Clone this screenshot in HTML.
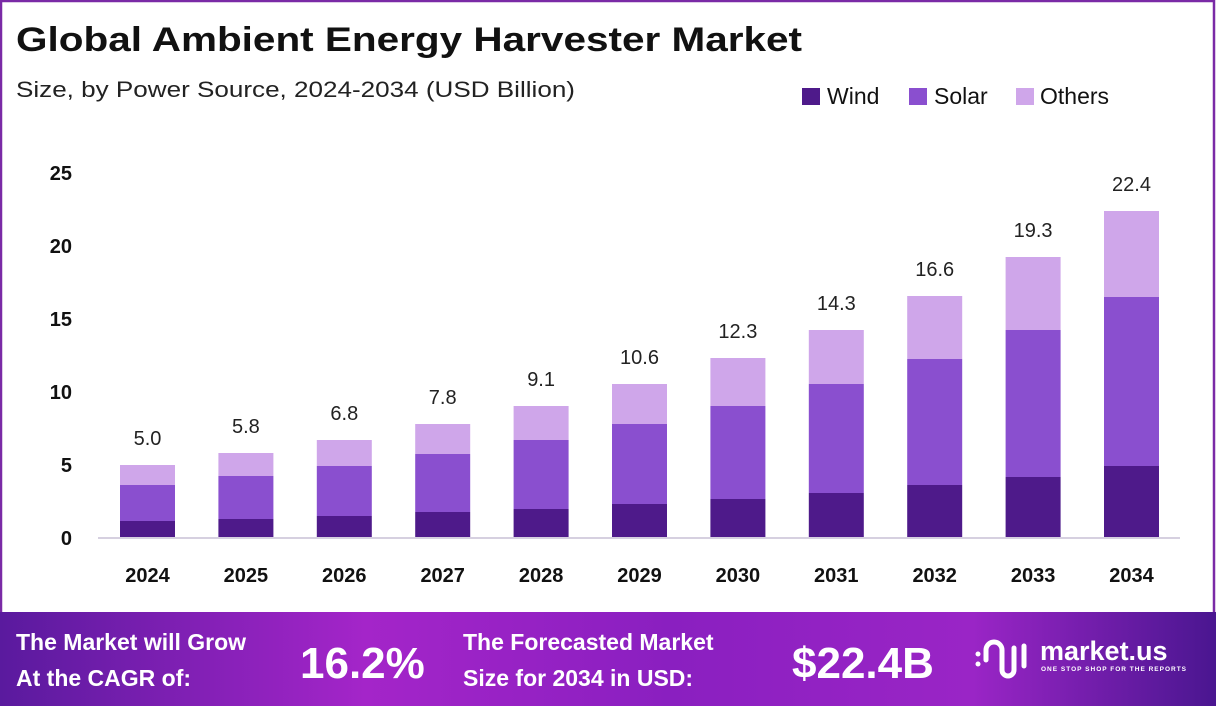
<!DOCTYPE html>
<html><head><meta charset="utf-8"><style>
html,body{margin:0;padding:0;background:#fff}
svg{display:block;font-family:"Liberation Sans",sans-serif}
</style></head><body>
<svg width="1216" height="706" viewBox="0 0 1216 706" xmlns="http://www.w3.org/2000/svg">
<defs>
<linearGradient id="ft" x1="0" x2="1" y1="0" y2="0">
<stop offset="0" stop-color="#5a1a9e"/>
<stop offset="0.3" stop-color="#a425c9"/>
<stop offset="0.55" stop-color="#8a1fc0"/>
<stop offset="0.8" stop-color="#9a25c6"/>
<stop offset="1" stop-color="#4a1690"/>
</linearGradient>
</defs>
<rect x="0" y="0" width="1216" height="706" fill="#fff"/>
<rect x="1" y="1" width="1213" height="620" fill="none" stroke="#7a2aa6" stroke-width="2.5"/>
<text x="16" y="51" font-size="34" font-weight="bold" fill="#111" textLength="786" lengthAdjust="spacingAndGlyphs">Global Ambient Energy Harvester Market</text>
<text x="16" y="97" font-size="22" fill="#222" textLength="559" lengthAdjust="spacingAndGlyphs">Size, by Power Source, 2024-2034 (USD Billion)</text>
<rect x="802" y="88" width="18" height="17" fill="#4e1a8a"/>
<text x="827" y="104" font-size="23" fill="#111">Wind</text>
<rect x="909" y="88" width="18" height="17" fill="#8a4fcf"/>
<text x="934" y="104" font-size="23" fill="#111">Solar</text>
<rect x="1016" y="88" width="18" height="17" fill="#cfa6ea"/>
<text x="1040" y="104" font-size="23" fill="#111">Others</text>
<g font-size="20" font-weight="bold" fill="#111" text-anchor="end">
<text x="72" y="180">25</text><text x="72" y="253">20</text><text x="72" y="326">15</text>
<text x="72" y="399">10</text><text x="72" y="472">5</text><text x="72" y="545">0</text>
</g>
<line x1="98" y1="538" x2="1180" y2="538" stroke="#d6d0e0" stroke-width="2"/>
<g id="bars"></g>
<g font-size="20" font-weight="bold" fill="#111" text-anchor="middle" id="xl"></g>
<g font-size="20" fill="#222" text-anchor="middle" id="vl"></g>
<rect x="0" y="612" width="1216" height="94" fill="url(#ft)"/>
<g fill="#fff" font-weight="bold">
<text x="16" y="650" font-size="23">The Market will Grow</text>
<text x="16" y="686" font-size="23">At the CAGR of:</text>
<text x="300" y="678" font-size="44">16.2%</text>
<text x="463" y="650" font-size="23">The Forecasted Market</text>
<text x="463" y="686" font-size="23">Size for 2034 in USD:</text>
<text x="792" y="678" font-size="44">$22.4B</text>
<text x="1040" y="660" font-size="27">market.us</text>
<text x="1041" y="671" font-size="6.5" letter-spacing="1">ONE STOP SHOP FOR THE REPORTS</text>
</g>
<g fill="none" stroke="#fff" stroke-width="5" stroke-linecap="round">
<path d="M986 660 v-10 a8 8 0 0 1 16 0 v20 a6 6 0 0 0 12 0 v-22"/>
<path d="M1024 646 v20"/>
</g>
<circle cx="978" cy="654" r="2.5" fill="#fff"/><circle cx="978" cy="664" r="2.5" fill="#fff"/>
</svg>
<script>
var d=[[521,485,465,"5.0"],[519,476,453,"5.8"],[516,466,440,"6.8"],[512,454,424,"7.8"],[509,440,406,"9.1"],[504,424,384,"10.6"],[499,406,358,"12.3"],[493,384,330,"14.3"],[485,359,296,"16.6"],[477,330,257,"19.3"],[466,297,211,"22.4"]];
var ns="http://www.w3.org/2000/svg",b=document.getElementById("bars"),xl=document.getElementById("xl"),vl=document.getElementById("vl");
function r(x,y,h,c){var e=document.createElementNS(ns,"rect");e.setAttribute("x",x);e.setAttribute("y",y);e.setAttribute("width",55);e.setAttribute("height",h);e.setAttribute("fill",c);b.appendChild(e);}
function t(g,x,y,s){var e=document.createElementNS(ns,"text");e.setAttribute("x",x);e.setAttribute("y",y);e.textContent=s;g.appendChild(e);}
d.forEach(function(v,i){var x=120+i*98.4;r(x,v[0],537-v[0],"#4e1a8a");r(x,v[1],v[0]-v[1],"#8a4fcf");r(x,v[2],v[1]-v[2],"#cfa6ea");
t(xl,x+27.5,582,String(2024+i));t(vl,x+27.5,v[2]-20,v[3]);});
</script>
</body></html>
